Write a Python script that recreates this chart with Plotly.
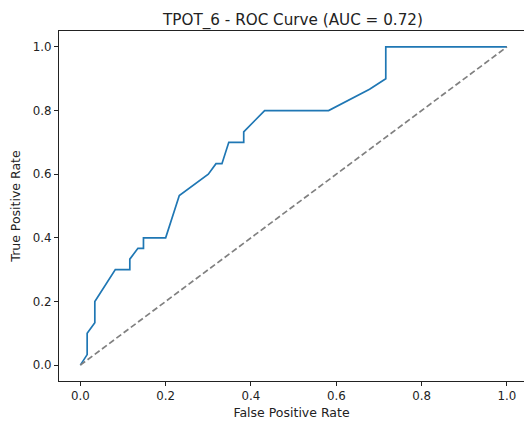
import plotly.graph_objects as go

# ROC curve vertices
fpr = [0.0, 0.016, 0.016, 0.034, 0.034, 0.082, 0.116, 0.116, 0.135, 0.148, 0.148,
       0.200, 0.232, 0.300, 0.318, 0.332, 0.348, 0.383, 0.383, 0.432, 0.582, 0.678,
       0.716, 0.716, 1.0]
tpr = [0.0, 0.033, 0.100, 0.133, 0.200, 0.300, 0.300, 0.333, 0.367, 0.367, 0.400,
       0.400, 0.533, 0.600, 0.633, 0.633, 0.700, 0.700, 0.733, 0.800, 0.800, 0.867,
       0.900, 1.000, 1.0]
diag_x = [0.0, 1.0]
diag_y = [0.0, 1.0]
ticks = [0.0, 0.2, 0.4, 0.6, 0.8, 1.0]
tick_text = ["0.0", "0.2", "0.4", "0.6", "0.8", "1.0"]
title = "TPOT_6 - ROC Curve (AUC = 0.72)"

font = "DejaVu Sans"
fig = go.Figure()
fig.add_trace(go.Scatter(x=fpr, y=tpr, mode="lines",
                         line=dict(color="#1f77b4", width=1.7), showlegend=False))
fig.add_trace(go.Scatter(x=diag_x, y=diag_y, mode="lines",
                         line=dict(color="#808080", width=1.7, dash="6px,3px"),
                         showlegend=False))

axis_common = dict(showgrid=False, zeroline=False, showline=True, linecolor="#222",
                   linewidth=1, ticks="outside", ticklen=4, tickwidth=1,
                   tickcolor="#222", tickfont=dict(family=font, size=11.8, color="#222"),
                   tickvals=ticks, ticktext=tick_text)

fig.update_layout(
    width=524, height=423,
    margin=dict(l=59, r=0, t=31, b=42),
    paper_bgcolor="white", plot_bgcolor="white",
    title=dict(text=title, xref="paper", x=(293 - 59) / 465, xanchor="center",
               y=1 - 20 / 423, yanchor="middle",
               font=dict(family=font, size=15.2, color="#222")),
    xaxis=dict(range=[-0.05, 1.040], mirror=True,
               title=dict(text="False Positive Rate", standoff=6,
                          font=dict(family=font, size=12.5, color="#222")),
               **axis_common),
    yaxis=dict(range=[-0.05, 1.05], mirror=False,
               title=dict(text="True Positive Rate", standoff=9,
                          font=dict(family=font, size=12.5, color="#222")),
               **axis_common),
)

fig.write_html("out.html")
